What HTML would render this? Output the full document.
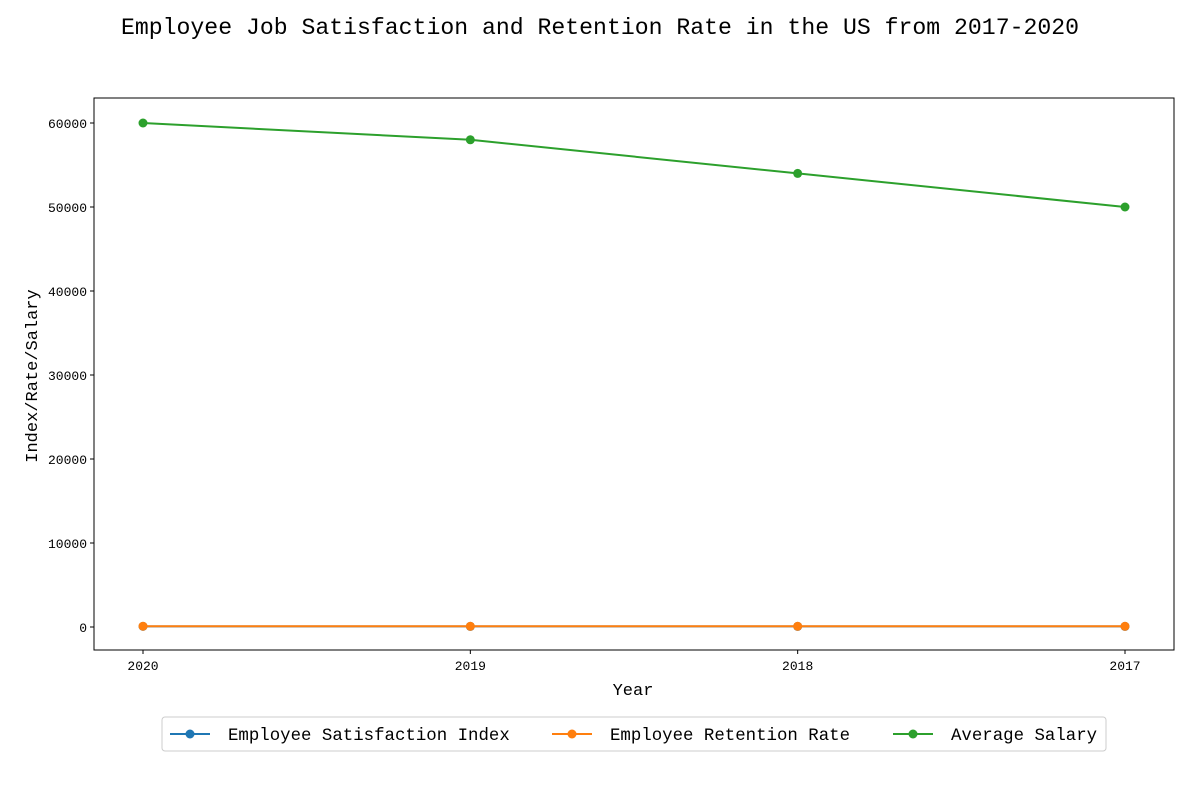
<!DOCTYPE html>
<html><head><meta charset="utf-8"><style>
body{margin:0;background:#fff;}
text{font-family:"Liberation Mono","Noto Sans CJK SC",monospace;fill:#000;}
</style></head><body>
<svg id="chart" width="1200" height="800" xmlns="http://www.w3.org/2000/svg">
<text x="121" y="34" font-size="23" textLength="958" lengthAdjust="spacingAndGlyphs">Employee Job Satisfaction and Retention Rate in the US from 2017-2020</text>
<rect x="94" y="98" width="1080" height="552" fill="none" stroke="#000" stroke-width="1"/>
<g id="axes"></g>
<g id="series"></g>
<text x="633" y="695" text-anchor="middle" font-size="17">Year</text>
<text transform="translate(37,376) rotate(-90)" text-anchor="middle" font-size="17">Index/Rate/Salary</text>
<g>
<rect x="162" y="717" width="944" height="34" rx="3" fill="#fff" stroke="#ccc"/>
<g id="legend"></g>
</g>
</svg>
<script>
const years = ["2020","2019","2018","2017"];
const satisfaction = [75, 73, 70, 68];
const retention = [90, 88, 85, 83];
const salary = [60000, 58000, 54000, 50000];
const yTicks = [0,10000,20000,30000,40000,50000,60000];
const seriesNames = ["Employee Satisfaction Index","Employee Retention Rate","Average Salary"];
const NS="http://www.w3.org/2000/svg";
const xs = i => 143 + i*(1125-143)/(years.length-1);
const ys = v => 627 - v*(627-123)/60000;
const colors=["#1f77b4","#ff7f0e","#2ca02c"];
function mk(tag,attrs,parent){const e=document.createElementNS(NS,tag);for(const k in attrs)e.setAttribute(k,attrs[k]);parent.appendChild(e);return e;}
const ax=document.getElementById('axes');
yTicks.forEach(t=>{
  const l=mk('line',{x1:90,x2:94,y1:ys(t),y2:ys(t),stroke:'#000'},ax);
  
  
  const tx=mk('text',{x:87,y:ys(t)+5,'text-anchor':'end','font-size':13},ax);
  tx.textContent=t;
  
  
});
years.forEach((y,i)=>{
  const l=mk('line',{x1:xs(i),x2:xs(i),y1:650,y2:654,stroke:'#000'},ax);
  
  
  const tx=mk('text',{x:xs(i),y:670,'text-anchor':'middle','font-size':13},ax);
  tx.textContent=y;
  
  
});
const sg=document.getElementById('series');
[satisfaction,retention,salary].forEach((d,s)=>{
  const g=mk('g',{},sg);
  
  
  const p=mk('polyline',{points:d.map((v,i)=>xs(i)+','+ys(v)).join(' '),fill:'none',stroke:colors[s],'stroke-width':2},g);
  
  
  d.forEach((v,i)=>{
    const c=mk('circle',{cx:xs(i),cy:ys(v),r:4.5,fill:colors[s]},g);
    
    
  });
});
const lg=document.getElementById('legend');
const lx=[170,552,893];
seriesNames.forEach((n,s)=>{
  const g=mk('g',{},lg);
  
  
  mk('line',{x1:lx[s],x2:lx[s]+40,y1:734,y2:734,stroke:colors[s],'stroke-width':2},g);
  mk('circle',{cx:lx[s]+20,cy:734,r:4.5,fill:colors[s]},g);
  const t=mk('text',{x:lx[s]+58,y:740,'font-size':17.4},g);
  t.textContent=n;
});
</script>
</body></html>
